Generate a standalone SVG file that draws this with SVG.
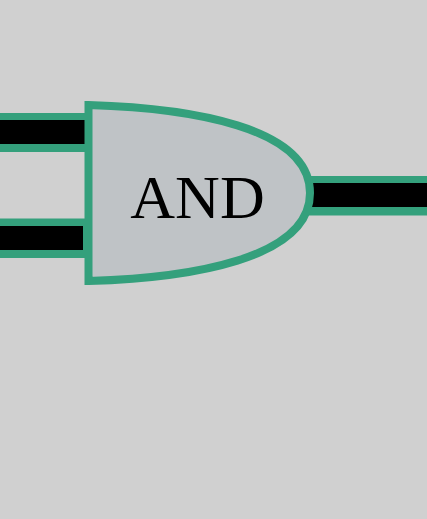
<svg xmlns="http://www.w3.org/2000/svg" width="427" height="519" viewBox="0 0 427 519">
<style>
.wo{fill:#34a07c}
.wi{fill:#000}
.gate{fill:#bfc3c6;stroke:#34a07c;stroke-width:8;stroke-linejoin:miter}
.lbl{font-family:"Liberation Serif","Times New Roman",serif;font-size:62px;fill:#000;text-anchor:middle}
</style>
<rect width="427" height="519" fill="#d0d0d0"/>
<g id="connectors">
<rect class="wo" x="0" y="113" width="90" height="39"/>
<rect class="wi" x="0" y="120" width="85" height="24"/>
<rect class="wo" x="0" y="218.500" width="90" height="39.500"/>
<rect class="wi" x="0" y="226" width="83" height="24"/>
<rect class="wo" x="305" y="176" width="122" height="39.500"/>
<rect class="wi" x="312" y="183" width="115" height="24"/>
</g>
<g id="and-gate">
<path class="gate" d="M88.500 105 C190 108 310 127 310 193 C310 259 190 278 88.500 281 Z"/>
<text class="lbl" x="197.500" y="217.500">AND</text>
</g>
</svg>
